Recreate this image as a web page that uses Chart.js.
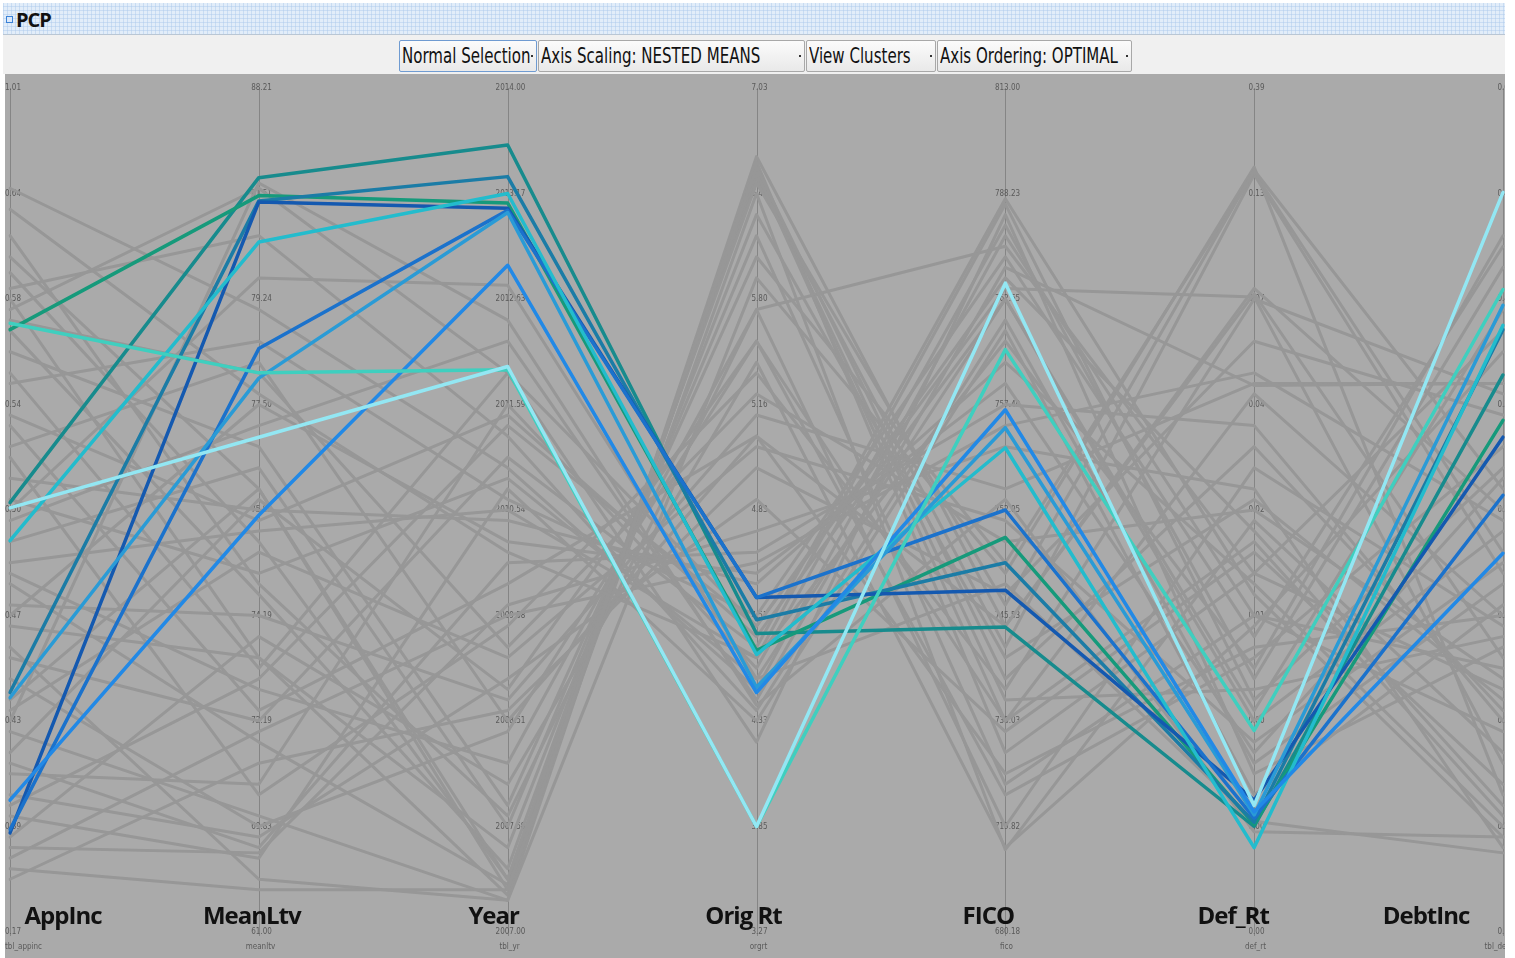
<!DOCTYPE html>
<html>
<head>
<meta charset="utf-8">
<title>PCP</title>
<script src="https://cdn.jsdelivr.net/npm/chart.js@4.4.1/dist/chart.umd.min.js"></script>
<style>
  html, body { margin: 0; padding: 0; background: #ffffff; }
  body { width: 1515px; height: 958px; position: relative; overflow: hidden; font-family: "DejaVu Sans Condensed", "Liberation Sans", sans-serif; }
  #titlebar {
    position: absolute; left: 3px; top: 3px; width: 1502px; height: 31px;
    background-color: #e2edf9;
    background-image:
      linear-gradient(90deg, rgba(170,200,235,0.45) 1px, transparent 1px),
      linear-gradient(0deg, rgba(170,200,235,0.45) 1px, transparent 1px);
    background-size: 4px 4px;
    border-bottom: 1px solid #b9c6d4;
  }
  #titlebar .icon { position: absolute; left: 3px; top: 13px; width: 5px; height: 5px; border: 1px solid #3b82d6; background: #dbe9fb; }
  #titlebar .name { position: absolute; left: 13px; top: 3px; font: bold 20px "Open Sans", "Liberation Sans", sans-serif; color: #111; letter-spacing: -1px; }
  #toolbar { position: absolute; left: 3px; top: 35px; width: 1502px; height: 39px; background: #f0f0f0; }
  .btn {
    position: absolute; top: 5px; height: 32px; box-sizing: border-box;
    border: 1px solid #a8a8a8; border-radius: 2px;
    background: linear-gradient(#fbfbfb, #e9e9e9);
    color: #111; white-space: nowrap; overflow: hidden;
  }
  .btn.focus { border-color: #6f9bd1; }
  .btn .txt { position: absolute; left: 2px; top: 0; font-size: 22px; line-height: 30px; transform: scaleX(0.76); transform-origin: 0 0; }
  .btn .dd { position: absolute; right: 3px; top: 14px; width: 2px; height: 2px; background: #333; }
  #plot { position: absolute; left: 5px; top: 74px; width: 1500px; height: 884px; background: #aaaaaa; }
</style>
</head>
<body>
<div id="titlebar"><div class="icon"></div><div class="name">PCP</div></div>
<div id="toolbar">
  <div class="btn focus" style="left:396px;width:138px;"><span class="txt">Normal Selection</span><span class="dd"></span></div>
  <div class="btn" style="left:535px;width:267px;"><span class="txt">Axis Scaling: NESTED MEANS</span><span class="dd"></span></div>
  <div class="btn" style="left:803px;width:130px;"><span class="txt">View Clusters</span><span class="dd"></span></div>
  <div class="btn" style="left:934px;width:195px;"><span class="txt">Axis Ordering: OPTIMAL</span><span class="dd"></span></div>
</div>
<div id="plot"><canvas id="pcp" width="1500" height="884"></canvas></div>
<script>
// Axes of the parallel-coordinates plot, left to right
const axisNames = ['AppInc', 'MeanLtv', 'Year', 'Orig Rt', 'FICO', 'Def_Rt', 'DebtInc'];
const fieldNames = ['tbl_appinc', 'meanltv', 'tbl_yr', 'orgrt', 'fico', 'def_rt', 'tbl_debtinc'];

// Nested-means tick labels per axis, top to bottom (9 break points each)
const appIncTicks  = ['1.01', '0.64', '0.58', '0.54', '0.50', '0.47', '0.43', '0.39', '0.17'];
const meanLtvTicks = ['88.21', '81.51', '79.24', '77.50', '75.89', '74.19', '72.19', '69.83', '61.00'];
const yearTicks    = ['2014.00', '2013.17', '2012.63', '2011.59', '2010.54', '2009.58', '2008.51', '2007.58', '2007.00'];
const origRtTicks  = ['7.03', '6.40', '5.80', '5.16', '4.83', '4.51', '4.33', '3.85', '3.27'];
const ficoTicks    = ['813.00', '788.23', '762.65', '757.40', '752.05', '745.53', '738.03', '719.82', '680.18'];
const defRtTicks   = ['0.39', '0.13', '0.07', '0.04', '0.02', '0.01', '0.00', '0.00', '0.00'];
const debtIncTicks = ['0.63', '0.45', '0.41', '0.38', '0.36', '0.34', '0.31', '0.28', '0.12'];

// Record values on each axis, in nested-means scale units (0 = lowest break, 8 = highest).
// The first ten records form the selected cluster; the rest are background records.
const appInc  = [4.07, 5.71, 2.27, 0.94, 0.97, 3.71, 2.22, 1.25, 5.77, 4.02,
  7.05, 6.85, 5.9, 6.1, 6.4, 6.25, 6.0, 5.7, 5.5, 5.2, 4.8, 4.5, 4.3, 4.1, 3.9, 3.4, 3.3, 3.1, 2.9, 2.6,
  2.4, 2.1, 1.9, 1.6, 1.5, 1.3, 1.1, 0.9, 0.8, 0.6, 0.5, 3.7, 4.9, 5.8, 2.2, 3.0, 6.6, 1.2, 4.6, 0.7,
  2.7, 5.3, 3.5, 1.7, 4.0, 2.0];
const meanLtv = [7.15, 6.98, 6.93, 6.92, 5.53, 6.54, 5.25, 3.95, 5.30, 4.69,
  5.9, 5.1, 7.05, 6.6, 4.2, 3.7, 2.6, 3.2, 4.6, 5.6, 2.1, 1.3, 4.0, 3.4, 4.8, 2.3, 1.8, 3.0, 2.6, 2.0,
  1.0, 3.6, 1.1, 0.8, 1.4, 0.9, 0.7, 2.8, 0.75, 0.4, 1.6, 4.4, 3.9, 5.3, 4.2, 5.0, 3.3, 2.4, 5.4, 1.9,
  0.5, 2.5, 3.8, 4.1, 6.2, 7.1];
const year    = [7.46, 6.91, 7.16, 6.86, 6.84, 7.00, 6.82, 6.32, 5.33, 5.36,
  4.4, 3.6, 5.3, 4.7, 0.4, 0.5, 0.35, 0.6, 1.2, 4.1, 3.3, 2.9, 3.9, 4.3, 5.6, 1.6, 0.45, 2.2, 0.8, 4.5,
  1.9, 2.6, 0.3, 3.5, 5.0, 2.4, 4.2, 1.4, 3.1, 0.4, 2.1, 1.0, 4.9, 2.7, 0.5, 3.7, 1.1, 4.8, 2.0, 3.0,
  0.3, 5.3, 4.0, 2.3, 6.13, 5.8];
const origRt  = [2.83, 2.67, 2.96, 3.17, 3.17, 2.63, 2.32, 2.27, 1.00, 1.00,
  2.3, 2.6, 2.9, 2.1, 7.25, 7.2, 7.3, 7.1, 6.4, 3.0, 4.7, 5.3, 3.3, 2.4, 2.2, 5.9, 7.0, 4.9, 6.8, 2.7,
  5.6, 4.6, 7.35, 3.6, 2.5, 4.1, 2.0, 5.4, 3.8, 7.2, 4.4, 6.6, 2.8, 5.1, 7.15, 3.4, 5.9, 2.9, 4.7, 3.5,
  6.2, 1.8, 2.6, 5.6, 2.4, 2.15];
const fico    = [2.89, 3.74, 3.50, 3.24, 4.00, 4.59, 4.78, 4.95, 5.52, 6.15,
  6.6, 6.9, 6.2, 5.8, 2.4, 2.0, 1.7, 3.1, 3.5, 6.4, 2.9, 2.3, 5.4, 6.0, 6.3, 1.0, 0.78, 4.2, 2.6, 6.95,
  1.3, 3.9, 2.9, 5.0, 6.7, 1.9, 5.7, 0.8, 4.6, 2.2, 3.2, 1.4, 6.0, 3.7, 2.7, 5.2, 6.5, 6.1, 1.5, 4.8,
  3.4, 6.8, 5.6, 2.0, 3.3, 4.1];
const defRt   = [1.00, 1.02, 1.04, 1.25, 1.08, 0.80, 1.11, 1.14, 1.91, 1.20,
  3.0, 2.2, 3.8, 1.6, 4.6, 5.1, 3.4, 7.22, 7.2, 2.8, 6.05, 6.0, 3.3, 2.0, 5.18, 4.4, 3.9, 5.2, 4.1, 3.2,
  2.6, 1.8, 6.1, 4.8, 2.4, 3.6, 1.3, 2.9, 4.2, 2.3, 5.6, 3.0, 2.1, 4.0, 7.18, 1.7, 3.4, 6.02, 2.7, 5.3,
  7.25, 1.5, 2.5, 3.7, 1.05, 0.95];
const debtInc = [5.28, 4.85, 5.71, 4.69, 4.14, 5.75, 5.94, 3.59, 6.09, 7.01,
  2.5, 4.4, 1.2, 3.3, 2.1, 3.0, 5.7, 4.2, 3.6, 6.5, 2.6, 5.1, 1.0, 3.8, 5.2, 2.9, 1.7, 5.2, 2.2, 0.9,
  4.6, 3.5, 4.0, 2.0, 6.3, 1.4, 3.1, 5.5, 0.8, 2.8, 4.9, 1.9, 5.9, 2.4, 3.4, 4.3, 2.3, 1.6, 3.0, 3.9,
  1.3, 2.7, 6.6, 1.1, 0.75, 0.9];

// Colours of the selected cluster's records (one per record, in order)
const clusterColors = ['#178b8d', '#169a7b', '#1b7ca6', '#1459b0', '#1b72cc',
                       '#23bccd', '#2a9bd6', '#2289e6', '#3fcfbf', '#93e7f3'];
const backgroundColor = '#979797';

const columns = [appInc, meanLtv, year, origRt, fico, defRt, debtInc];
const tickSets = [appIncTicks, meanLtvTicks, yearTicks, origRtTicks, ficoTicks, defRtTicks, debtIncTicks];

const datasets = appInc.map((_, i) => {
  const inCluster = i < clusterColors.length;
  return {
    data: columns.map(col => col[i]),
    borderColor: inCluster ? clusterColors[i] : backgroundColor,
    borderWidth: inCluster ? 3.5 : 3,
    order: inCluster ? clusterColors.length - i : 100 + i,
    fill: false
  };
});

// Axis rails, break-point labels and field names, drawn under the records
const axisRails = {
  id: 'axisRails',
  beforeDatasetsDraw(chart) {
    const { ctx, scales: { x, y } } = chart;
    ctx.save();
    axisNames.forEach((_, k) => {
      const px = Math.round(x.getPixelForValue(k)) + 0.5;
      ctx.strokeStyle = '#858585';
      ctx.lineWidth = 1;
      ctx.beginPath();
      ctx.moveTo(px, y.getPixelForValue(8));
      ctx.lineTo(px, y.getPixelForValue(0) + 4);
      ctx.stroke();
      ctx.fillStyle = '#5a5a5a';
      ctx.font = '8px "DejaVu Sans Condensed", sans-serif';
      ctx.textBaseline = 'middle';
      ctx.textAlign = k === 0 ? 'left' : 'center';
      const lx = k === 0 ? 0 : px + 2;
      tickSets[k].forEach((t, j) => {
        ctx.fillText(t, lx, y.getPixelForValue(8 - j));
      });
      ctx.fillText(fieldNames[k], k === 0 ? 0 : px + 1, y.getPixelForValue(0) + 15);
    });
    ctx.restore();
  },
  afterDatasetsDraw(chart) {
    const { ctx, scales: { x, y } } = chart;
    const shifts = [53, -7, -14, -13, -17, -21, -77];
    ctx.save();
    ctx.fillStyle = '#111111';
    ctx.font = 'bold 24px "Open Sans", Lato, sans-serif';
    if ('letterSpacing' in ctx) ctx.letterSpacing = '-1px';
    ctx.textAlign = 'center';
    ctx.textBaseline = 'alphabetic';
    axisNames.forEach((name, k) => {
      ctx.fillText(name, x.getPixelForValue(k) + shifts[k], y.getPixelForValue(0) - 8);
    });
    ctx.restore();
  }
};

new Chart(document.getElementById('pcp'), {
  type: 'line',
  data: { labels: axisNames, datasets },
  options: {
    responsive: false,
    animation: false,
    events: [],
    layout: { padding: { left: 5, right: 2, top: 14, bottom: 26 } },
    elements: { line: { tension: 0, borderCapStyle: 'round', borderJoinStyle: 'round' }, point: { radius: 0 } },
    plugins: { legend: { display: false }, tooltip: { enabled: false } },
    scales: {
      x: { type: 'category', display: false, offset: false },
      y: { type: 'linear', display: false, min: 0, max: 8 }
    }
  },
  plugins: [axisRails]
});
</script>
</body>
</html>
